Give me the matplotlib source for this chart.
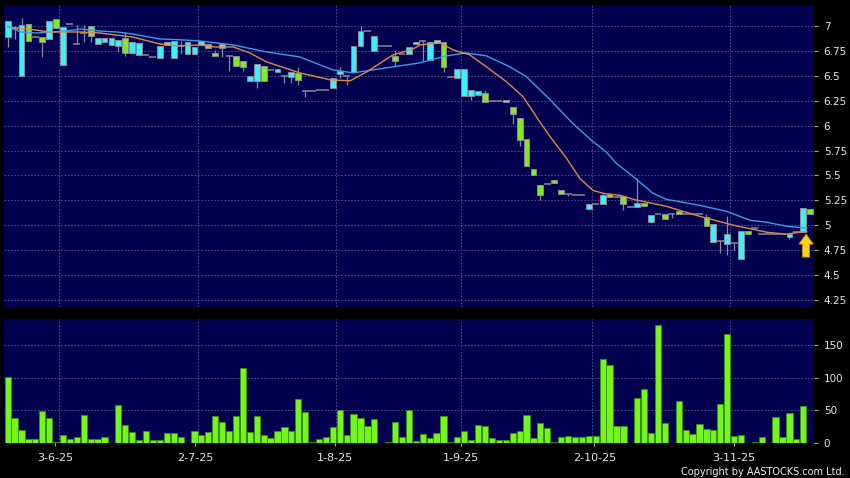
import numpy as np
import matplotlib
matplotlib.use("Agg")
import matplotlib.pyplot as plt
from matplotlib.patches import FancyArrow

# daily OHLC (one entry per trading day)
opens = [6.89, 6.97, 6.50, 7.02, 6.89, 6.89, 6.87, 7.07, 6.61, 7.02,
         6.82, 6.93, 7.00, 6.82, 6.84, 6.81, 6.80, 6.88, 6.73, 6.71,
         6.71, 6.69, 6.68, 6.81, 6.68, 6.80, 6.72, 6.72, 6.81, 6.82,
         6.73, 6.78, 6.70, 6.70, 6.65, 6.45, 6.45, 6.60, 6.56, 6.54,
         6.50, 6.49, 6.53, 6.35, 6.35, 6.36, 6.36, 6.38, 6.52, 6.50,
         6.54, 6.80, 6.95, 6.75, 6.80, 6.80, 6.70, 6.72, 6.72, 6.82,
         6.85, 6.66, 6.83, 6.84, 6.49, 6.48, 6.30, 6.30, 6.31, 6.33,
         6.25, 6.25, 6.26, 6.19, 6.08, 5.87, 5.56, 5.40, 5.41, 5.45,
         5.35, 5.31, 5.30, 5.30, 5.16, 5.21, 5.21, 5.31, 5.28, 5.29,
         5.18, 5.18, 5.22, 5.03, 5.11, 5.11, 5.11, 5.14, 5.11, 5.11,
         5.11, 5.08, 4.83, 4.84, 4.81, 4.82, 4.66, 4.94, 4.97, 4.91,
         4.91, 4.91, 4.91, 4.88, 4.93, 4.93, 5.16]
highs = [7.05, 7.00, 7.08, 7.02, 6.89, 6.89, 7.05, 7.07, 6.99, 7.02,
         7.01, 7.01, 7.00, 6.88, 6.88, 6.88, 6.86, 6.94, 6.84, 6.83,
         6.71, 6.69, 6.80, 6.84, 6.85, 6.85, 6.84, 6.79, 6.85, 6.82,
         6.76, 6.82, 6.70, 6.70, 6.65, 6.50, 6.62, 6.60, 6.56, 6.57,
         6.51, 6.54, 6.59, 6.35, 6.35, 6.36, 6.36, 6.48, 6.59, 6.50,
         6.80, 7.00, 6.95, 6.90, 6.80, 6.80, 6.76, 6.72, 6.79, 6.84,
         6.85, 6.84, 6.86, 6.84, 6.49, 6.57, 6.57, 6.36, 6.35, 6.36,
         6.25, 6.25, 6.26, 6.19, 6.08, 5.87, 5.56, 5.40, 5.41, 5.45,
         5.35, 5.31, 5.30, 5.30, 5.21, 5.21, 5.32, 5.31, 5.28, 5.29,
         5.18, 5.47, 5.22, 5.10, 5.11, 5.11, 5.11, 5.14, 5.11, 5.11,
         5.11, 5.11, 5.01, 4.84, 5.09, 4.82, 4.94, 4.94, 4.97, 4.91,
         4.91, 4.91, 4.91, 4.91, 4.93, 5.17, 5.16]
lows = [6.79, 6.87, 6.50, 6.85, 6.89, 6.69, 6.87, 6.98, 6.61, 7.02,
        6.82, 6.84, 6.84, 6.82, 6.84, 6.81, 6.74, 6.70, 6.73, 6.71,
        6.71, 6.69, 6.68, 6.81, 6.68, 6.72, 6.72, 6.72, 6.81, 6.78,
        6.70, 6.69, 6.55, 6.60, 6.55, 6.45, 6.38, 6.45, 6.56, 6.54,
        6.43, 6.43, 6.41, 6.29, 6.35, 6.36, 6.36, 6.38, 6.48, 6.41,
        6.54, 6.80, 6.95, 6.75, 6.80, 6.80, 6.60, 6.72, 6.72, 6.82,
        6.65, 6.66, 6.83, 6.54, 6.49, 6.48, 6.30, 6.26, 6.31, 6.24,
        6.25, 6.25, 6.24, 6.02, 5.80, 5.59, 5.50, 5.25, 5.41, 5.42,
        5.31, 5.29, 5.30, 5.30, 5.16, 5.21, 5.21, 5.28, 5.28, 5.15,
        5.18, 5.18, 5.19, 5.03, 5.11, 5.06, 5.07, 5.11, 5.11, 5.11,
        5.11, 4.99, 4.83, 4.72, 4.70, 4.75, 4.66, 4.91, 4.97, 4.91,
        4.91, 4.91, 4.91, 4.86, 4.93, 4.93, 5.11]
closes = [7.05, 6.97, 7.01, 6.85, 6.89, 6.84, 7.05, 6.98, 6.99, 7.02,
          6.82, 6.93, 6.90, 6.88, 6.88, 6.88, 6.86, 6.73, 6.84, 6.83,
          6.71, 6.69, 6.80, 6.84, 6.85, 6.80, 6.84, 6.79, 6.85, 6.78,
          6.70, 6.82, 6.70, 6.60, 6.59, 6.50, 6.62, 6.45, 6.56, 6.57,
          6.50, 6.54, 6.46, 6.35, 6.35, 6.36, 6.36, 6.48, 6.55, 6.50,
          6.80, 6.95, 6.95, 6.90, 6.80, 6.80, 6.65, 6.72, 6.79, 6.84,
          6.85, 6.84, 6.86, 6.59, 6.49, 6.57, 6.57, 6.36, 6.35, 6.24,
          6.25, 6.25, 6.24, 6.12, 5.86, 5.59, 5.50, 5.30, 5.41, 5.42,
          5.31, 5.31, 5.30, 5.30, 5.21, 5.21, 5.30, 5.28, 5.28, 5.21,
          5.18, 5.22, 5.19, 5.10, 5.11, 5.06, 5.11, 5.11, 5.11, 5.11,
          5.11, 4.99, 5.01, 4.84, 4.91, 4.82, 4.94, 4.91, 4.97, 4.91,
          4.91, 4.91, 4.91, 4.91, 4.93, 5.17, 5.11]

# volume (thousands), last day has no bar
volumes = [101, 38, 21, 6.6, 6.6, 49, 38, 2, 12.7, 6,
           9.6, 42.6, 6, 7, 9.6, 0.5, 59, 28, 17, 5,
           18, 5, 5, 16, 16, 10, 0.5, 18, 13, 17,
           42, 32, 19, 42, 115, 17, 42, 12, 8, 19,
           25, 19, 67, 48, 2, 6, 9, 25, 51, 12,
           45, 39, 26, 37, 0.5, 2.5, 32, 9.6, 50, 4,
           14, 8.6, 16, 42, 1.5, 9.6, 19, 4.6, 28, 27,
           8, 5, 4.6, 15, 19, 43, 8.6, 31, 23, 2.5,
           10, 11, 10, 10, 11, 11, 128, 119, 26, 26,
           1, 69, 82, 15, 180, 31, 1, 64, 21, 14,
           29, 22, 20, 60, 167, 11, 13, 0, 2.5, 10,
           0.5, 40, 9, 46, 6.6, 57]

# moving average lines (bar index, price)
ma_short_x = [0, 4, 6, 8.5, 10.5, 13.3, 18, 22, 24.4, 27.8, 30, 32.6, 35, 37.4,
              42.2, 46.6, 49.5, 51.9, 55.7, 58.6, 59.6, 62.5, 64.4, 66.8, 69.2,
              72.1, 74.5, 76.9, 78.4, 80.8, 82.7, 84.6, 86.1, 88.5, 90.4, 95.2,
              100, 104.9, 109.7, 112.6, 115.5]
ma_short_y = [6.99, 6.96, 6.94, 6.94, 6.94, 6.93, 6.89, 6.82, 6.80, 6.81, 6.79,
              6.79, 6.73, 6.64, 6.53, 6.46, 6.45, 6.54, 6.71, 6.77, 6.81, 6.83,
              6.76, 6.71, 6.59, 6.44, 6.29, 6.04, 5.89, 5.67, 5.47, 5.35, 5.32,
              5.30, 5.26, 5.19, 5.09, 5.00, 4.93, 4.91, 4.94]
ma_long_x = [0, 1.9, 4.3, 6.3, 8.5, 10.5, 13.3, 15.8, 18, 22, 25.4, 27.8, 32.6,
             37.4, 42.2, 47, 49.9, 51.9, 55.7, 59.6, 63.4, 66.3, 69.2, 72.6, 75,
             78.4, 81.7, 84.6, 86.6, 88, 90.4, 93.3, 95.2, 100, 103.9, 107.3,
             109.7, 112.6, 115.5]
ma_long_y = [7.00, 6.94, 6.93, 6.94, 6.95, 6.97, 6.95, 6.94, 6.92, 6.87, 6.86,
             6.85, 6.81, 6.74, 6.69, 6.56, 6.53, 6.55, 6.59, 6.63, 6.70, 6.73,
             6.70, 6.59, 6.49, 6.26, 6.02, 5.84, 5.73, 5.62, 5.49, 5.32, 5.26,
             5.20, 5.14, 5.05, 5.03, 4.99, 4.97]

date_labels = ["3-6-25", "2-7-25", "1-8-25", "1-9-25", "2-10-25", "3-11-25"]
date_ticks = [6.9, 27.1, 47.3, 65.5, 84.8, 105.0]
date_grid = [7.46, 27.46, 47.44, 65.46, 84.48, 104.48]
price_ticks = [4.25, 4.5, 4.75, 5, 5.25, 5.5, 5.75, 6, 6.25, 6.5, 6.75, 7]
vol_ticks = [0, 50, 100, 150]

NAVY = "#00004f"
CYAN = "#3cf0f8"
GREEN = "#82e826"
VOL_GREEN = "#74f51e"
EDGE = "#8a8a9a"
GRID = "#5c5c96"
TXT = "#e8e8e8"

plt.rcParams["font.family"] = ["DejaVu Sans"]

fig = plt.figure(figsize=(8.5, 4.78), dpi=100, facecolor="black")
W, H = 850.0, 478.0
ax = fig.add_axes([4 / W, 1 - 306.7 / H, 810 / W, 301.7 / H])
axv = fig.add_axes([4 / W, 1 - 443.3 / H, 810 / W, 124.3 / H], sharex=ax)

for a in (ax, axv):
    a.set_facecolor(NAVY)
    for s in a.spines.values():
        s.set_visible(False)
    a.yaxis.tick_right()
    a.tick_params(axis="y", colors="#b0b0b0", labelcolor=TXT, labelsize=7.5,
                  length=3, width=0.8, pad=4)
    a.set_xticks(date_grid, minor=True)
    a.grid(True, which="minor", axis="x", color=GRID, linestyle=(0, (2, 2)), lw=0.6)
    a.grid(True, which="major", axis="y", color=GRID, linestyle=(0, (2, 2)), lw=0.6)
    a.set_axisbelow(True)

# ---- candles ----
o = np.array(opens)
h = np.array(highs)
l = np.array(lows)
c = np.array(closes)
idx = np.arange(len(c))
up = c > o
dn = c < o
flat = c == o
bw = 0.84

ax.vlines(idx, l, h, color=EDGE, lw=0.9, zorder=2)
ax.bar(idx[up], (c - o)[up], bottom=o[up], width=bw, color=CYAN,
       edgecolor=EDGE, lw=0.7, zorder=3)
ax.bar(idx[dn], (o - c)[dn], bottom=c[dn], width=bw, color=GREEN,
       edgecolor=EDGE, lw=0.7, zorder=3)
ax.hlines(c[flat], idx[flat] - 0.5, idx[flat] + 0.5, color=EDGE, lw=1.1, zorder=3)

ax.plot(ma_long_x, ma_long_y, color="#3a9ee8", lw=1.0, zorder=4)
ax.plot(ma_short_x, ma_short_y, color="#e08a4a", lw=1.0, zorder=4)

# buy signal arrow under the breakout candle
sig = len(c) - 2
ax.add_patch(FancyArrow(sig + 0.4, l[sig] - 0.25, 0, 0.23, width=1.0,
                        head_width=2.1, head_length=0.1, length_includes_head=True,
                        fc="#ffd21f", ec="#d08a00", lw=0.6, zorder=5))

ax.set_ylim(4.182, 7.211)
ax.set_yticks(price_ticks)
ax.set_yticklabels(["%g" % t for t in price_ticks])
ax.set_xlim(-0.53, 116.55)
ax.tick_params(axis="x", which="both", bottom=False, labelbottom=False)

# ---- volume ----
axv.bar(np.arange(len(volumes)), volumes, width=0.9, color=VOL_GREEN,
        edgecolor="#3c8c10", lw=0.6, zorder=3)
axv.set_ylim(0, 189.2)
axv.set_yticks(vol_ticks)
axv.set_xticks(date_ticks)
axv.set_xticklabels(date_labels)
axv.tick_params(axis="x", which="major", colors="#b0b0b0", labelcolor=TXT,
                labelsize=8, length=2, pad=5)
axv.tick_params(axis="x", which="minor", length=0)

fig.text(845 / W, 1 - 471.7 / H, "Copyright by AASTOCKS.com Ltd.", ha="right",
         va="center", color="#f0f0f0", fontsize=7)

fig.savefig("out.png", dpi=100, facecolor="black")
